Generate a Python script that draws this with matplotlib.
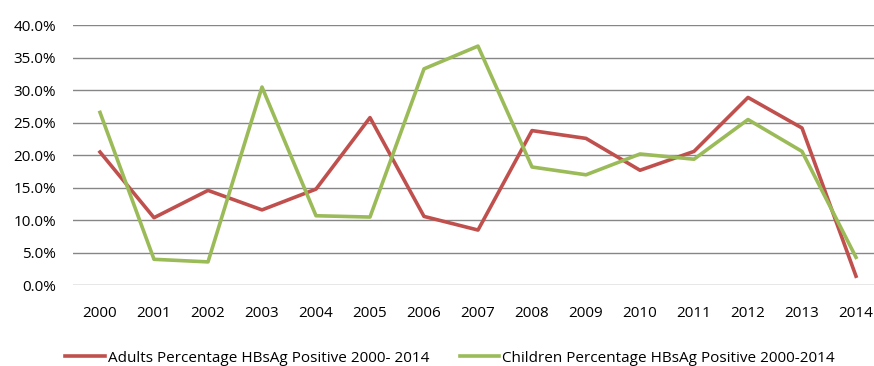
import matplotlib.pyplot as plt
from matplotlib.ticker import FuncFormatter

years = ['2000', '2001', '2002', '2003', '2004', '2005', '2006', '2007',
         '2008', '2009', '2010', '2011', '2012', '2013', '2014']
adults = [20.5, 10.4, 14.6, 11.6, 14.8, 25.8, 10.6, 8.5,
          23.8, 22.6, 17.7, 20.6, 28.9, 24.2, 1.4]
children = [26.6, 4.0, 3.6, 30.5, 10.7, 10.5, 33.3, 36.8,
            18.2, 17.0, 20.2, 19.4, 25.5, 20.6, 4.3]

plt.rcParams['font.family'] = ['Open Sans', 'DejaVu Sans']

fig = plt.figure(figsize=(8.74, 3.66), dpi=100)
# plot area in pixels: left 73, top 25 (40%), bottom 285 (0%)
ax = fig.add_axes([73 / 874, 1 - 285.3 / 366, (874 - 73) / 874, (285.3 - 25.3) / 366])

x = list(range(len(years)))
ax.plot(x, adults, color='#C0504D', lw=2.6, label='Adults Percentage HBsAg Positive 2000- 2014')
ax.plot(x, children, color='#9BBB59', lw=2.6, label='Children Percentage HBsAg Positive 2000-2014')

ax.set_ylim(0, 40)
ax.set_yticks(range(0, 41, 5))
ax.yaxis.set_major_formatter(FuncFormatter(lambda v, p: f'{v:.1f}%'))
ax.set_xlim(-0.5, 14 + (874 - 856) / 54)
ax.set_xticks(x)
ax.set_xticklabels(years)

ax.grid(axis='y', color='#868686', lw=1)
ax.set_axisbelow(True)
for s in ax.spines.values():
    s.set_visible(False)
ax.tick_params(length=0, labelsize=11, colors='black')
ax.tick_params(axis='y', pad=12)
ax.tick_params(axis='x', pad=15)

ax.legend(loc='center', bbox_to_anchor=(450 / 874, 1 - 358 / 366),
          bbox_transform=fig.transFigure, ncol=2, frameon=False,
          fontsize=11, handlelength=2.6, handletextpad=0.2, columnspacing=2.0)

fig.savefig('out.png', dpi=100)
